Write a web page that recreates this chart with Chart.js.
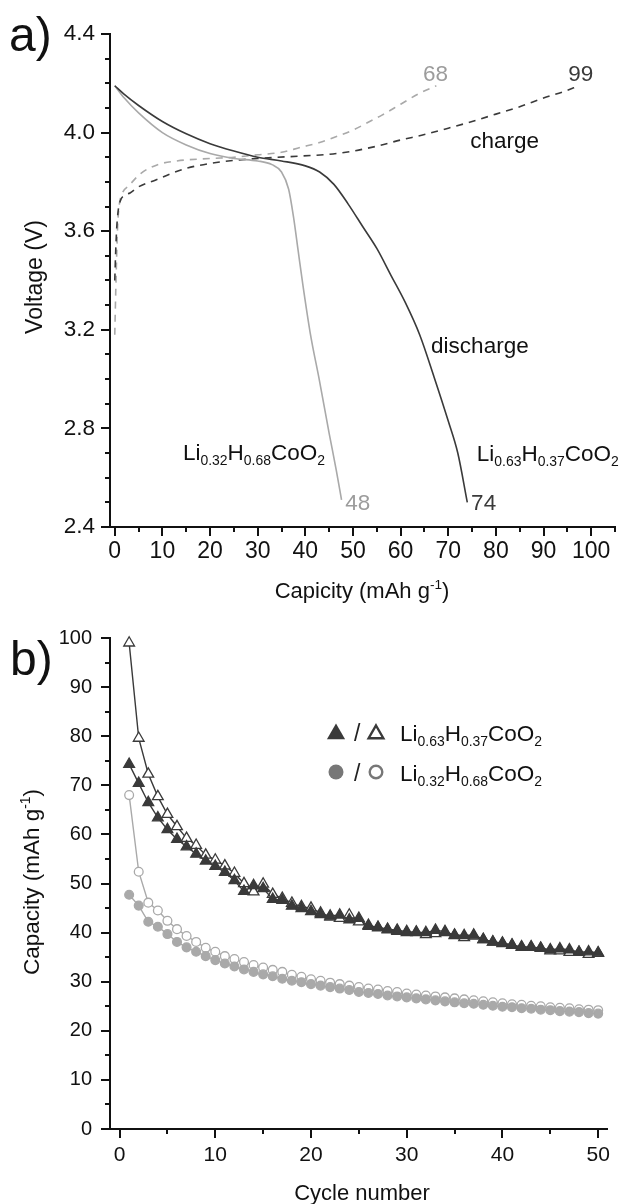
<!DOCTYPE html>
<html>
<head>
<meta charset="utf-8">
<script src="https://cdn.jsdelivr.net/npm/chart.js@4.4.1/dist/chart.umd.min.js"></script>
<style>
  html, body { margin: 0; padding: 0; background: #fff; }
  #wrap { position: relative; width: 624px; height: 1204px; }
  canvas { position: absolute; left: 0; }
  #chartA { top: 0; }
  #chartB { top: 600px; }
</style>
</head>
<body>
<div id="wrap">
  <canvas id="chartA" width="624" height="620"></canvas>
  <canvas id="chartB" width="624" height="604"></canvas>
</div>
<script>
// ---------- panel a: voltage profiles ----------
const dis63Cap = [0, 2, 5, 10, 15, 20, 25, 30, 35, 40, 43, 46, 49, 52, 55, 58, 61, 64, 67, 70, 72, 74];
const dis63V   = [4.19, 4.155, 4.11, 4.045, 3.995, 3.955, 3.925, 3.90, 3.885, 3.865, 3.84, 3.79, 3.71, 3.62, 3.53, 3.42, 3.31, 3.18, 3.01, 2.83, 2.70, 2.50];

const dis32Cap = [0, 2, 5, 10, 15, 20, 25, 30, 33, 35, 36.5, 37.5, 38.5, 39.5, 41, 43, 45, 46.5, 47.6];
const dis32V   = [4.19, 4.14, 4.08, 4.00, 3.95, 3.915, 3.895, 3.885, 3.87, 3.84, 3.77, 3.66, 3.52, 3.38, 3.19, 2.99, 2.78, 2.63, 2.51];

const chg63Cap = [0, 0.2, 0.4, 0.7, 1.2, 2, 3.2, 5, 8.5, 12, 15, 20, 25, 30, 39, 45, 50, 55, 60, 65, 70, 75, 80, 85, 90, 94, 97.5];
const chg63V   = [3.40, 3.52, 3.61, 3.68, 3.725, 3.745, 3.755, 3.78, 3.807, 3.835, 3.855, 3.875, 3.887, 3.895, 3.905, 3.912, 3.925, 3.945, 3.97, 3.992, 4.018, 4.045, 4.075, 4.105, 4.14, 4.165, 4.19];

const chg32Cap = [0, 0.2, 0.4, 0.6, 0.9, 1.5, 3, 5.5, 9, 13, 20, 25, 30, 35, 39, 43, 46, 50, 53, 56, 60, 64, 67.5];
const chg32V   = [3.18, 3.35, 3.50, 3.62, 3.70, 3.75, 3.785, 3.835, 3.87, 3.885, 3.895, 3.90, 3.91, 3.92, 3.94, 3.96, 3.98, 4.01, 4.04, 4.07, 4.115, 4.16, 4.19];

const capTicksA  = [0, 10, 20, 30, 40, 50, 60, 70, 80, 90, 100];
const voltTicksA = [2.4, 2.8, 3.2, 3.6, 4.0, 4.4];

// ---------- panel b: cycling ----------
const cycles = [1, 2, 3, 4, 5, 6, 7, 8, 9, 10, 11, 12, 13, 14, 15, 16, 17, 18, 19, 20,
  21, 22, 23, 24, 25, 26, 27, 28, 29, 30, 31, 32, 33, 34, 35, 36, 37, 38, 39, 40,
  41, 42, 43, 44, 45, 46, 47, 48, 49, 50];
const dis63 = [74.3, 70.4, 66.5, 63.4, 61.0, 59.0, 57.5, 56.0, 54.6, 53.5, 52.3, 50.6, 48.4, 49.6, 49.0, 46.8, 46.6, 45.4, 44.9, 44.3,
  43.7, 43.4, 43.6, 42.6, 42.9, 41.3, 41.1, 40.7, 40.5, 40.2, 40.1, 40.0, 40.5, 40.2, 39.5, 39.4, 39.5, 38.6, 38.1, 37.9,
  37.5, 37.1, 37.1, 36.8, 36.5, 36.7, 36.5, 36.0, 36.1, 35.9];
const chg63 = [99.0, 79.6, 72.3, 67.7, 64.1, 61.6, 59.2, 57.8, 55.8, 54.8, 53.6, 52.1, 50.0, 48.3, 49.9, 47.8, 47.0, 46.0, 45.3, 45.0,
  44.0, 43.2, 42.9, 43.6, 42.2, 41.5, 41.0, 40.6, 40.3, 40.0, 40.0, 39.6, 39.8, 40.0, 39.4, 39.0, 39.3, 38.6, 38.1, 37.8,
  37.4, 37.0, 37.0, 36.8, 36.3, 36.3, 36.0, 36.0, 35.6, 35.8];
const dis32 = [47.7, 45.5, 42.2, 41.2, 39.7, 38.1, 37.0, 36.1, 35.2, 34.4, 33.7, 33.1, 32.5, 32.0, 31.5, 31.1, 30.6, 30.2, 29.9, 29.5,
  29.2, 28.9, 28.6, 28.3, 27.9, 27.7, 27.5, 27.2, 27.0, 26.8, 26.6, 26.4, 26.2, 26.0, 25.8, 25.6, 25.5, 25.3, 25.1, 24.9,
  24.8, 24.6, 24.5, 24.3, 24.2, 24.0, 23.9, 23.8, 23.6, 23.5];
const chg32 = [68.0, 52.4, 46.1, 44.5, 42.4, 40.7, 39.3, 38.1, 36.9, 36.1, 35.2, 34.6, 34.0, 33.4, 32.9, 32.4, 32.0, 31.4, 31.0, 30.5,
  30.2, 29.8, 29.5, 29.2, 28.9, 28.6, 28.4, 28.1, 27.9, 27.6, 27.4, 27.2, 27.0, 26.8, 26.6, 26.4, 26.2, 26.0, 25.8, 25.6,
  25.4, 25.3, 25.1, 25.0, 24.8, 24.7, 24.6, 24.4, 24.3, 24.2];

const cycleTicksB = [0, 10, 20, 30, 40, 50];
const capTicksB   = [0, 10, 20, 30, 40, 50, 60, 70, 80, 90, 100];

const FONT = "'Liberation Sans', Arial, Helvetica, sans-serif";
const DARK = '#3a3a3a';
const LIGHT = '#a9a9a9';
const AXIS = '#111';

const li63 = [['Li', 'n'], ['0.63', 'sub'], ['H', 'n'], ['0.37', 'sub'], ['CoO', 'n'], ['2', 'sub']];
const li32 = [['Li', 'n'], ['0.32', 'sub'], ['H', 'n'], ['0.68', 'sub'], ['CoO', 'n'], ['2', 'sub']];

Chart.defaults.font.family = FONT;
Chart.defaults.color = AXIS;
Chart.defaults.animation = false;

function pairs(xs, ys) {
    return xs.map((x, i) => ({ x: x, y: ys[i] }));
}

// text with sub / superscripts, y is the baseline
function drawRich(ctx, parts, x, y, size, color, align) {
    const small = size * 0.62;
    let w = 0;
    parts.forEach(p => {
        ctx.font = (p[1] === 'n' ? size : small) + 'px ' + FONT;
        w += ctx.measureText(p[0]).width;
    });
    let cx = align === 'center' ? x - w / 2 : (align === 'right' ? x - w : x);
    ctx.textAlign = 'left';
    ctx.textBaseline = 'alphabetic';
    ctx.fillStyle = color;
    parts.forEach(p => {
        const s = p[1] === 'n' ? size : small;
        ctx.font = s + 'px ' + FONT;
        const dy = p[1] === 'sub' ? size * 0.2 : (p[1] === 'sup' ? -size * 0.42 : 0);
        ctx.fillText(p[0], cx, y + dy);
        cx += ctx.measureText(p[0]).width;
    });
}

// major and minor outward ticks
function drawTicks(chart, xMajor, xStep, yMajor, yStep) {
    const { ctx, chartArea: a, scales } = chart;
    const xs = scales.x, ys = scales.y;
    ctx.save();
    ctx.strokeStyle = AXIS;
    ctx.lineWidth = 2;
    ctx.beginPath();
    xMajor.forEach(v => {
        const px = Math.round(xs.getPixelForValue(v));
        ctx.moveTo(px, a.bottom);
        ctx.lineTo(px, a.bottom + 9);
        const m = v + xStep / 2;
        if (m <= xs.max) {
            const pm = Math.round(xs.getPixelForValue(m));
            ctx.moveTo(pm, a.bottom);
            ctx.lineTo(pm, a.bottom + 5);
        }
    });
    yMajor.forEach((v, i) => {
        const py = Math.round(ys.getPixelForValue(v));
        ctx.moveTo(a.left, py);
        ctx.lineTo(a.left - 9, py);
        if (i < yMajor.length - 1) {
            const next = yMajor[i + 1];
            for (let k = 1; k < yStep; k++) {
                const pm = Math.round(ys.getPixelForValue(v + (next - v) * k / yStep));
                ctx.moveTo(a.left, pm);
                ctx.lineTo(a.left - 5, pm);
            }
        }
    });
    ctx.stroke();
    ctx.restore();
}

function rotatedTitle(ctx, parts, x, y, size) {
    ctx.save();
    ctx.translate(x, y);
    ctx.rotate(-Math.PI / 2);
    drawRich(ctx, parts, 0, size * 0.36, size, AXIS, 'center');
    ctx.restore();
}

////////////////////////////////////////////////////////////////////////////////////////

const panelA = {
    id: 'panelA',
    afterDraw(chart) {
        const { ctx, scales: { x, y } } = chart;
        drawTicks(chart, capTicksA, 10, voltTicksA, 4);
        ctx.save();
        // panel letter
        ctx.font = '48px ' + FONT;
        ctx.fillStyle = '#111';
        ctx.textAlign = 'left';
        ctx.textBaseline = 'alphabetic';
        ctx.fillText('a)', 9, 51);
        // axis titles
        rotatedTitle(ctx, [['Voltage (V)', 'n']], 34, 277, 23);
        drawRich(ctx, [['Capicity (mAh g', 'n'], ['-1', 'sup'], [')', 'n']], 362, 598, 22, AXIS, 'center');
        // labels on the curves
        const lbl = (parts, cap, v, color, align) =>
            drawRich(ctx, parts, x.getPixelForValue(cap), y.getPixelForValue(v) + 8, 22.5, color, align);
        lbl([['68', 'n']], 67.3, 4.242, '#9c9c9c', 'center');
        lbl([['99', 'n']], 97.8, 4.242, DARK, 'center');
        lbl([['charge', 'n']], 74.6, 3.97, '#111', 'left');
        lbl([['discharge', 'n']], 66.4, 3.137, '#111', 'left');
        lbl(li32, 14.3, 2.703, '#111', 'left');
        lbl(li63, 76.0, 2.70, '#111', 'left');
        lbl([['48', 'n']], 48.4, 2.50, '#9c9c9c', 'left');
        lbl([['74', 'n']], 74.8, 2.50, DARK, 'left');
        ctx.restore();
    }
};

const chartA = new Chart(document.getElementById('chartA'), {
    type: 'scatter',
    data: {
        datasets: [
            { data: pairs(dis63Cap, dis63V), borderColor: DARK, borderWidth: 1.6 },
            { data: pairs(dis32Cap, dis32V), borderColor: LIGHT, borderWidth: 1.6 },
            { data: pairs(chg63Cap, chg63V), borderColor: DARK, borderWidth: 1.6, borderDash: [7, 6] },
            { data: pairs(chg32Cap, chg32V), borderColor: LIGHT, borderWidth: 1.6, borderDash: [7, 6] }
        ].map(d => Object.assign(d, { showLine: true, pointRadius: 0, cubicInterpolationMode: 'monotone', clip: false }))
    },
    options: {
        responsive: false,
        layout: { padding: { left: 0, right: 9, top: 34, bottom: 0 } },
        plugins: { legend: { display: false }, tooltip: { enabled: false } },
        scales: {
            x: {
                type: 'linear', min: -1, max: 105,
                afterBuildTicks: s => { s.ticks = capTicksA.map(v => ({ value: v })); },
                afterFit: s => { s.height = 93; },
                grid: { display: false, drawTicks: false },
                border: { color: AXIS, width: 2 },
                ticks: { padding: 11, font: { size: 23 }, color: AXIS, maxRotation: 0, autoSkip: false }
            },
            y: {
                type: 'linear', min: 2.4, max: 4.4,
                afterBuildTicks: s => { s.ticks = voltTicksA.map(v => ({ value: v })); },
                afterFit: s => { s.width = 110; },
                grid: { display: false, drawTicks: false },
                border: { color: AXIS, width: 2 },
                ticks: { padding: 15, font: { size: 22.5 }, color: AXIS, callback: v => v.toFixed(1) }
            }
        }
    },
    plugins: [panelA]
});

////////////////////////////////////////////////////////////////////////////////////////

function triangle(ctx, cx, cy, r, fill, stroke) {
    ctx.beginPath();
    ctx.moveTo(cx, cy - r);
    ctx.lineTo(cx + r * 0.866, cy + r * 0.5);
    ctx.lineTo(cx - r * 0.866, cy + r * 0.5);
    ctx.closePath();
    if (fill) { ctx.fillStyle = fill; ctx.fill(); }
    if (stroke) { ctx.strokeStyle = stroke; ctx.lineWidth = 2.4; ctx.stroke(); }
}

const panelB = {
    id: 'panelB',
    afterDraw(chart) {
        const { ctx } = chart;
        drawTicks(chart, cycleTicksB, 10, capTicksB, 2);
        ctx.save();
        ctx.font = '48px ' + FONT;
        ctx.fillStyle = '#111';
        ctx.textAlign = 'left';
        ctx.textBaseline = 'alphabetic';
        ctx.fillText('b)', 10, 75);
        rotatedTitle(ctx, [['Capacity (mAh g', 'n'], ['-1', 'sup'], [')', 'n']], 31, 282, 22.5);
        drawRich(ctx, [['Cycle number', 'n']], 362, 600, 22, AXIS, 'center');

        // legend
        triangle(ctx, 336, 134, 10.5, DARK, null);
        triangle(ctx, 376, 134, 8.5, '#fff', DARK);
        ctx.beginPath();
        ctx.arc(336, 172, 7.5, 0, Math.PI * 2);
        ctx.fillStyle = '#777';
        ctx.fill();
        ctx.beginPath();
        ctx.arc(376, 172, 6.3, 0, Math.PI * 2);
        ctx.strokeStyle = '#777';
        ctx.lineWidth = 2.4;
        ctx.stroke();
        ctx.font = '23px ' + FONT;
        ctx.fillStyle = '#222';
        ctx.fillText('/', 354, 141);
        ctx.fillText('/', 354, 181);
        drawRich(ctx, li63, 400, 141, 22.5, '#111', 'left');
        drawRich(ctx, li32, 400, 181, 22.5, '#111', 'left');
        ctx.restore();
    }
};

const common = { showLine: true, borderWidth: 1.4, clip: false, pointBorderWidth: 1.3 };

const chartB = new Chart(document.getElementById('chartB'), {
    type: 'scatter',
    data: {
        datasets: [
            Object.assign({ data: pairs(cycles, dis63), borderColor: DARK, pointStyle: 'triangle', pointRadius: 6.2,
                pointBackgroundColor: DARK, pointBorderColor: DARK }, common),
            Object.assign({ data: pairs(cycles, dis32), borderColor: LIGHT, pointStyle: 'circle', pointRadius: 4.4,
                pointBackgroundColor: LIGHT, pointBorderColor: LIGHT }, common),
            Object.assign({ data: pairs(cycles, chg63), borderColor: DARK, pointStyle: 'triangle', pointRadius: 6.2,
                pointBackgroundColor: '#fff', pointBorderColor: DARK }, common),
            Object.assign({ data: pairs(cycles, chg32), borderColor: LIGHT, pointStyle: 'circle', pointRadius: 4.4,
                pointBackgroundColor: '#fff', pointBorderColor: LIGHT }, common)
        ]
    },
    options: {
        responsive: false,
        layout: { padding: { left: 0, right: 9, top: 38, bottom: 0 } },
        plugins: { legend: { display: false }, tooltip: { enabled: false } },
        scales: {
            x: {
                type: 'linear', min: -1, max: 51,
                afterBuildTicks: s => { s.ticks = cycleTicksB.map(v => ({ value: v })); },
                afterFit: s => { s.height = 75; },
                grid: { display: false, drawTicks: false },
                border: { color: AXIS, width: 2 },
                ticks: { padding: 14, font: { size: 21 }, color: AXIS, maxRotation: 0, autoSkip: false }
            },
            y: {
                type: 'linear', min: 0, max: 100,
                afterBuildTicks: s => { s.ticks = capTicksB.map(v => ({ value: v })); },
                afterFit: s => { s.width = 110; },
                grid: { display: false, drawTicks: false },
                border: { color: AXIS, width: 2 },
                ticks: { padding: 18, font: { size: 20 }, color: AXIS }
            }
        }
    },
    plugins: [panelB]
});
</script>
</body>
</html>
